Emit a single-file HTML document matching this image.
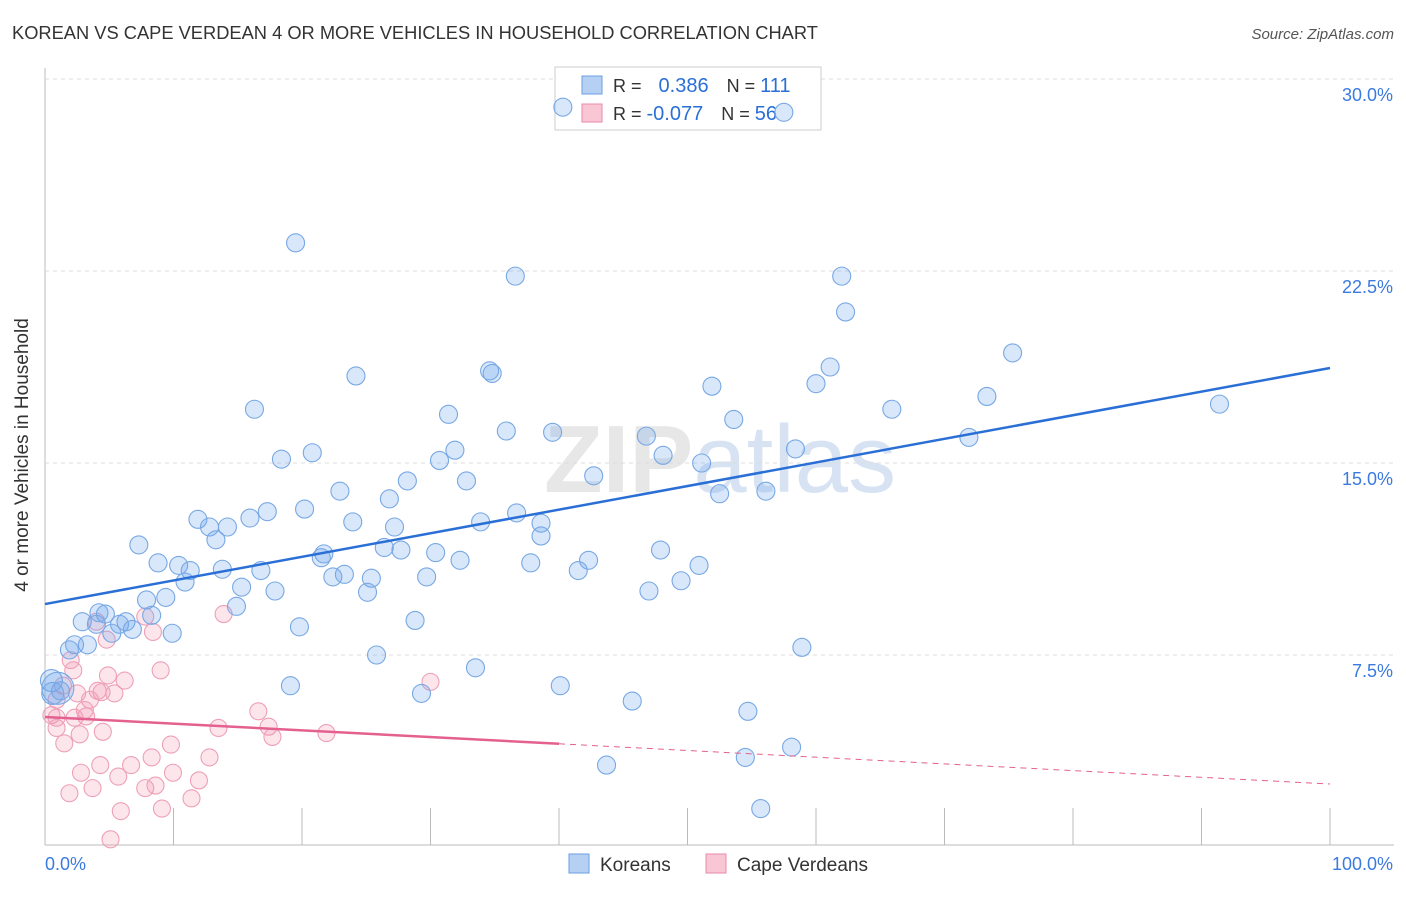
<!DOCTYPE html>
<html><head><meta charset="utf-8"><style>
body{margin:0;background:#fff;font-family:"Liberation Sans",sans-serif}
svg text{font-family:"Liberation Sans",sans-serif}
</style></head><body>
<svg id="chart" width="1406" height="892" xmlns="http://www.w3.org/2000/svg">
<text x="12" y="39" font-size="18.3" fill="#333">KOREAN VS CAPE VERDEAN 4 OR MORE VEHICLES IN HOUSEHOLD CORRELATION CHART</text>
<text x="1394" y="39" font-size="15" fill="#555" text-anchor="end" font-style="italic">Source: ZipAtlas.com</text>
<text x="720" y="492" font-size="96" fill="#ddd" text-anchor="middle" font-family="Liberation Serif" font-weight="bold" opacity="0.7">ZIP<tspan fill="#c7d8ee" font-family="Liberation Sans" font-weight="normal">atlas</tspan></text>
<g id="grid"></g>
<g>
<rect x="555" y="67" width="266" height="63" fill="#fff" stroke="#ccc"/>
<rect x="582" y="76" width="20" height="18" fill="#b6d0f4" stroke="#6a9fe0"/>
<rect x="582" y="104" width="20" height="18" fill="#f9c6d5" stroke="#e88aa8"/>
<text x="613" y="92" font-size="18" fill="#333">R = <tspan fill="#2a6fd6" dx="12" font-size="20">0.386</tspan><tspan fill="#333" dx="18">N = </tspan><tspan fill="#2a6fd6" font-size="20">111</tspan></text>
<text x="613" y="120" font-size="18" fill="#333">R = <tspan fill="#2a6fd6" font-size="20">-0.077</tspan><tspan fill="#333" dx="18">N = </tspan><tspan fill="#2a6fd6" font-size="20">56</tspan></text>
</g>
<g id="pts"></g>
<g id="lines"></g>
<text x="28" y="455" font-size="19" fill="#333" text-anchor="middle" transform="rotate(-90 28 455)">4 or more Vehicles in Household</text>
<g>
<rect x="569" y="854" width="20" height="19" fill="#b6d0f4" stroke="#6a9fe0"/>
<text x="600" y="871" font-size="19" fill="#333">Koreans</text>
<rect x="706" y="854" width="20" height="19" fill="#f9c6d5" stroke="#e88aa8"/>
<text x="737" y="871" font-size="19" fill="#333">Cape Verdeans</text>
</g>
</svg>
<script>
const yTicks=[7.5,15,22.5,30];
const yTickLabels=["7.5%","15.0%","22.5%","30.0%"];
const xTickLabels=["0.0%","100.0%"];
const koreanX=[40.3,57.5,19.5,36.6,62.0,62.3,75.3,24.2,34.6,34.8,51.9,60.0,61.1,73.3,91.4,16.3,31.4,53.6,65.9,35.9,39.5,46.8,71.9,18.4,20.8,30.7,31.9,48.1,51.1,58.4,28.2,32.8,42.7,22.95,26.8,52.5,56.1,20.2,17.3,15.95,11.9,12.8,14.2,13.3,23.95,27.2,33.9,36.7,38.6,38.6,7.3,26.4,27.7,30.4,47.9,21.5,21.7,32.3,37.8,42.3,41.5,50.9,8.8,10.4,11.3,13.8,16.8,10.9,22.4,23.3,25.4,29.7,49.5,15.3,17.9,25.1,47.0,7.9,9.4,14.9,4.2,4.7,8.3,2.9,4.0,6.3,5.8,5.2,6.8,9.9,19.8,28.8,2.3,3.3,1.9,58.9,25.8,33.5,19.1,40.1,0.5,1.2,29.3,45.7,54.7,58.1,54.5,43.7,55.7,1.0,0.6];
const koreanY=[28.9,28.7,23.6,22.3,22.3,20.9,19.3,18.4,18.6,18.5,18.0,18.1,18.75,17.6,17.3,17.1,16.9,16.7,17.1,16.25,16.2,16.05,16.0,15.15,15.4,15.1,15.5,15.3,15.0,15.55,14.3,14.3,14.5,13.9,13.6,13.8,13.9,13.2,13.1,12.85,12.8,12.5,12.5,12.0,12.7,12.5,12.7,13.05,12.65,12.15,11.8,11.7,11.6,11.5,11.6,11.3,11.45,11.2,11.1,11.2,10.8,11.0,11.1,11.0,10.8,10.85,10.8,10.35,10.55,10.65,10.5,10.55,10.4,10.15,10.0,9.95,10.0,9.65,9.75,9.4,9.15,9.1,9.05,8.8,8.7,8.8,8.7,8.35,8.5,8.35,8.6,8.85,7.9,7.9,7.7,7.8,7.5,7.0,6.3,6.3,6.5,6.1,6.0,5.7,5.3,3.9,3.5,3.2,1.5,6.2,6.0];
const cvX=[13.9,7.8,4.0,8.4,4.8,2.0,2.2,9.0,4.9,6.2,30.0,1.4,4.1,5.4,4.4,2.5,3.5,0.9,3.1,16.6,0.5,0.9,3.2,2.3,17.4,13.5,21.9,17.7,2.7,0.9,4.5,1.5,9.8,8.3,12.8,4.3,6.7,2.8,5.7,9.96,11.98,3.7,1.9,7.8,8.6,11.4,9.1,5.9,5.1];
const cvY=[9.1,9.0,8.8,8.4,8.1,7.3,6.9,6.9,6.7,6.5,6.45,6.3,6.1,6.0,6.05,6.0,5.75,5.75,5.35,5.3,5.15,5.05,5.1,5.05,4.7,4.65,4.45,4.3,4.4,4.65,4.5,4.05,4.0,3.5,3.5,3.2,3.2,2.9,2.75,2.9,2.6,2.3,2.1,2.3,2.4,1.9,1.5,1.4,0.3];
const koreanTrend=[9.49,18.71];
const cvTrend=[5.08,2.46];
const cvSolidEnd=40;
const NS="http://www.w3.org/2000/svg";
const xs=v=>45+v*12.85, ys=v=>847-v*25.6;
function mk(t,a,p){const e=document.createElementNS(NS,t);for(const k in a)e.setAttribute(k,a[k]);p.appendChild(e);return e;}
const grid=document.getElementById('grid');
mk('line',{x1:45,y1:68,x2:45,y2:845,stroke:'#bbb'},grid);
mk('line',{x1:45,y1:845,x2:1394,y2:845,stroke:'#bbb'},grid);
for(let i=0;i<yTicks.length;i++){
 const l=mk('line',{x1:45,y1:ys(yTicks[i]),x2:1394,y2:ys(yTicks[i]),stroke:'#ddd','stroke-dasharray':'4,4'},grid);
 
 
 const t=mk('text',{x:1393,y:ys(yTicks[i])+22,'font-size':18,fill:'#3b7ae0','text-anchor':'end'},grid);
 t.textContent=yTickLabels[i];
 
 
}
for(let i=1;i<=10;i++){const l=mk('line',{x1:xs(i*10),y1:808,x2:xs(i*10),y2:845,stroke:'#bbb'},grid);
 
 }
const tx0=mk('text',{x:45,y:870,'font-size':18,fill:'#3b7ae0'},grid);tx0.textContent=xTickLabels[0];


const tx1=mk('text',{x:1393,y:870,'font-size':18,fill:'#3b7ae0','text-anchor':'end'},grid);tx1.textContent=xTickLabels[1];


const pts=document.getElementById('pts');
for(let i=0;i<cvX.length;i++){const c=mk('circle',{cx:xs(cvX[i]),cy:ys(cvY[i]),r:8.5,fill:'rgba(240,140,170,0.22)',stroke:'#eea0b8','stroke-width':1.1},pts);
 
 }
for(let i=0;i<koreanX.length;i++){const big=i>=koreanX.length-2||koreanX[i]===0.5;const c=mk('circle',{cx:xs(koreanX[i]),cy:ys(koreanY[i]),r:big?(i===koreanX.length-2?16:11):9,fill:'rgba(110,165,235,0.27)',stroke:'#78a8e4','stroke-width':1.1},pts);
 
 }
const lines=document.getElementById('lines');
const kl=mk('line',{x1:xs(0),y1:ys(koreanTrend[0]),x2:xs(100),y2:ys(koreanTrend[1]),stroke:'#2a6fd6','stroke-width':2.5},lines);


const cvAt=x=>cvTrend[0]+(cvTrend[1]-cvTrend[0])*x/100;
const cl=mk('line',{x1:xs(0),y1:ys(cvTrend[0]),x2:xs(cvSolidEnd),y2:ys(cvAt(cvSolidEnd)),stroke:'#e4608f','stroke-width':2.5},lines);


const cd=mk('line',{x1:xs(cvSolidEnd),y1:ys(cvAt(cvSolidEnd)),x2:xs(100),y2:ys(cvTrend[1]),stroke:'#e4608f','stroke-width':1,'stroke-dasharray':'6,5'},lines);


</script>
</body></html>
